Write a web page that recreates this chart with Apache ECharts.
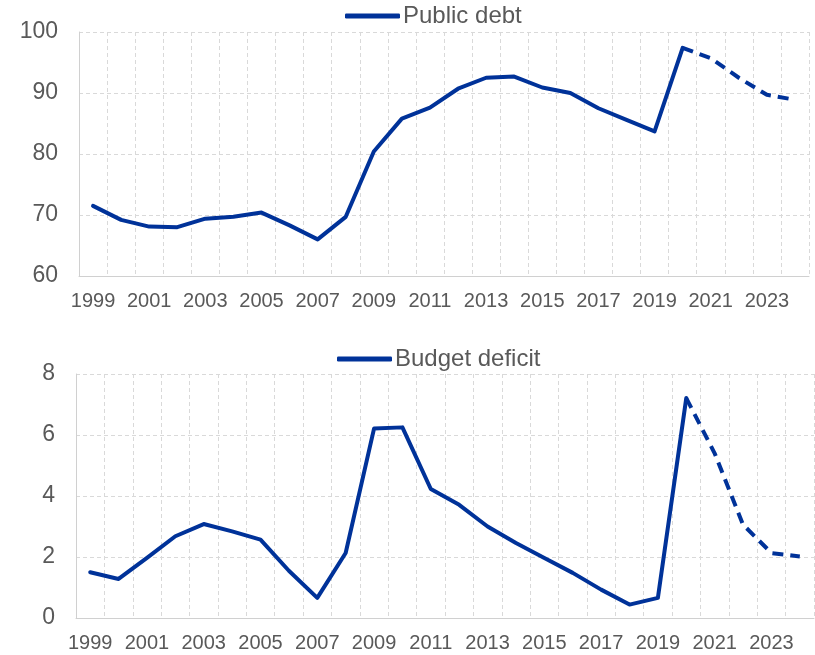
<!DOCTYPE html>
<html>
<head>
<meta charset="utf-8">
<script src="https://cdn.jsdelivr.net/npm/echarts@6/dist/echarts.min.js"></script>
<style>
  html, body { margin: 0; padding: 0; background: #fff; }
  #chartBox { width: 815px; height: 655px; }
</style>
</head>
<body>
<div id="chartBox"></div>
<script>
// x轴年份
const years = ['1999', '2000', '2001', '2002', '2003', '2004', '2005', '2006', '2007', '2008',
  '2009', '2010', '2011', '2012', '2013', '2014', '2015', '2016', '2017', '2018',
  '2019', '2020', '2021', '2022', '2023', '2024'];

// 公共债务 (实线到2020, 之后为预测虚线)
const debtActual = [71.5, 69.2, 68.1, 68.0, 69.4, 69.7, 70.4, 68.3, 66.0, 69.7,
  80.4, 85.8, 87.6, 90.7, 92.5, 92.7, 90.9, 90.0, 87.5, 85.6,
  83.7, 97.4, null, null, null, null];
const debtProjection = [null, null, null, null, null, null, null, null, null, null,
  null, null, null, null, null, null, null, null, null, null,
  null, 97.4, 95.7, 92.5, 89.7, 88.9];

// 预算赤字
const deficitActual = [1.50, 1.28, 1.97, 2.68, 3.08, 2.84, 2.57, 1.55, 0.66, 2.13,
  6.21, 6.25, 4.23, 3.71, 3.00, 2.46, 1.97, 1.48, 0.93, 0.44,
  0.66, 7.21, null, null, null, null];
const deficitProjection = [null, null, null, null, null, null, null, null, null, null,
  null, null, null, null, null, null, null, null, null, null,
  null, 7.21, 5.40, 3.06, 2.13, 2.02];

const debtTicks = [60, 100, 10];
const deficitTicks = [0, 8, 2];

const lineColor = '#003299';
const textColor = '#595959';
const gridColor = '#d9d9d9';

const chart = echarts.init(document.getElementById('chartBox'));

function xAxisFor(gridIndex) {
  return {
    type: 'category',
    gridIndex: gridIndex,
    data: years,
    boundaryGap: true,
    axisTick: { show: false },
    axisLine: { lineStyle: { color: '#d0d0d0', width: 1 } },
    axisLabel: {
      interval: 1,
      color: textColor,
      fontSize: 20,
      fontFamily: 'Liberation Sans, Arial',
      margin: 15
    },
    splitLine: {
      show: true,
      interval: 0,
      lineStyle: { color: gridColor, type: [4, 3], width: 1 }
    }
  };
}

function yAxisFor(gridIndex, ticks) {
  return {
    type: 'value',
    gridIndex: gridIndex,
    min: ticks[0],
    max: ticks[1],
    interval: ticks[2],
    axisLine: { show: true, lineStyle: { color: '#d0d0d0', width: 1 } },
    axisTick: { show: false },
    axisLabel: {
      color: textColor,
      fontSize: 23,
      fontFamily: 'Liberation Sans, Arial',
      margin: 21
    },
    splitLine: {
      show: true,
      lineStyle: { color: gridColor, type: [4, 3], width: 1 }
    }
  };
}

function lineSeries(name, data, idx, dashed) {
  return {
    name: name,
    type: 'line',
    xAxisIndex: idx,
    yAxisIndex: idx,
    data: data,
    showSymbol: false,
    symbol: 'none',
    connectNulls: false,
    itemStyle: { color: lineColor },
    lineStyle: {
      color: lineColor,
      width: 4,
      type: dashed ? [11, 7] : 'solid',
      cap: dashed ? 'butt' : 'round',
      join: 'round'
    },
    z: dashed ? 3 : 4
  };
}

function legendFor(name, left, top) {
  return {
    data: [{ name: name, icon: 'roundRect' }],
    left: left,
    top: top,
    padding: 0,
    itemWidth: 55,
    itemHeight: 5,
    itemStyle: { color: lineColor, borderWidth: 0 },
    textStyle: { color: textColor, fontSize: 24, padding: [0, 0, 0, -2] }
  };
}

const option = {
  animation: false,
  backgroundColor: '#ffffff',
  textStyle: { fontFamily: 'Liberation Sans, Arial' },
  legend: [
    legendFor('Public debt', 345, 4),
    legendFor('Budget deficit', 337, 347)
  ],
  grid: [
    { left: 79, right: 6, top: 32, height: 244 },
    { left: 76, right: 1, top: 374, height: 244 }
  ],
  xAxis: [xAxisFor(0), xAxisFor(1)],
  yAxis: [yAxisFor(0, debtTicks), yAxisFor(1, deficitTicks)],
  series: [
    lineSeries('Public debt', debtActual, 0, false),
    lineSeries('Public debt projection', debtProjection, 0, true),
    lineSeries('Budget deficit', deficitActual, 1, false),
    lineSeries('Budget deficit projection', deficitProjection, 1, true)
  ]
};

chart.setOption(option);
</script>
</body>
</html>
